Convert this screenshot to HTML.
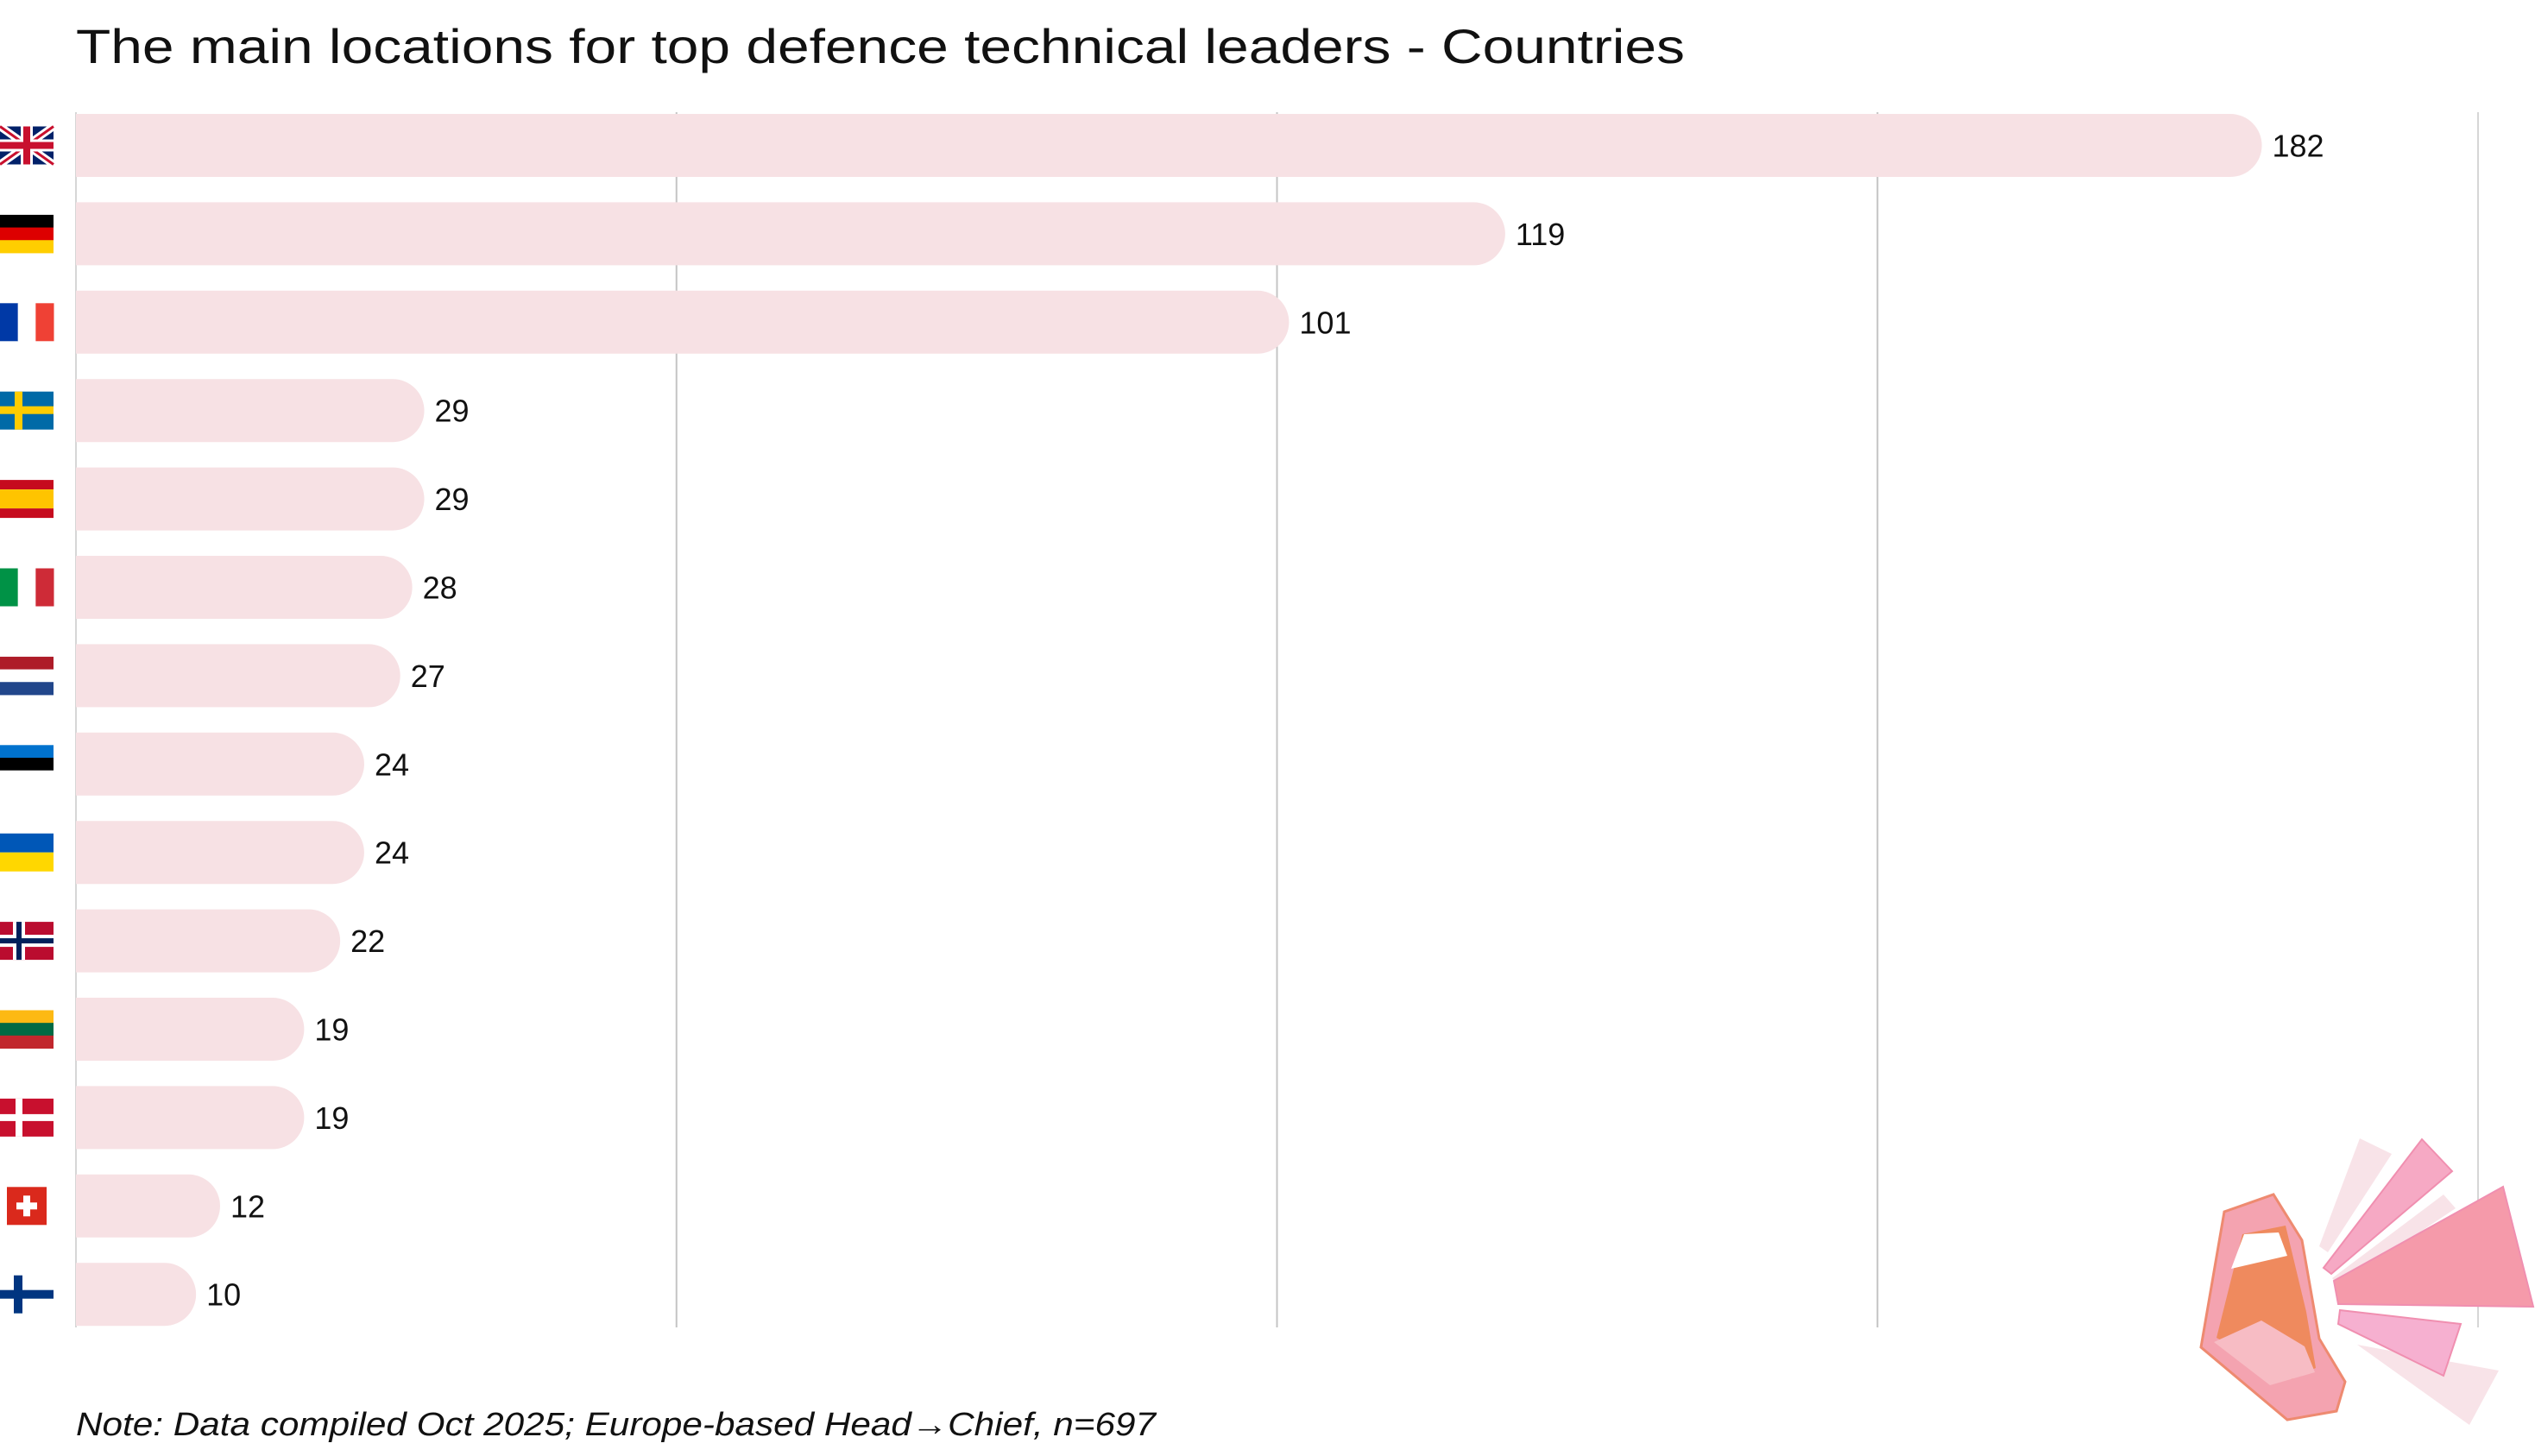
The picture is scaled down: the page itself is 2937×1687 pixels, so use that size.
<!DOCTYPE html>
<html><head><meta charset="utf-8"><style>
html,body{margin:0;padding:0;background:#fff;}
svg{display:block;}
</style></head><body>
<svg id="chart" width="2937" height="1687" viewBox="0 0 2937 1687" xmlns="http://www.w3.org/2000/svg">
<text x="88" y="73" font-family="Liberation Sans, sans-serif" font-size="56" fill="#111" textLength="1864" lengthAdjust="spacingAndGlyphs">The main locations for top defence technical leaders - Countries</text>
<g id="grid"></g>
<g id="bars"></g>
<g id="flags"></g>
<text x="88" y="1663" font-family="Liberation Sans, sans-serif" font-style="italic" font-size="38" fill="#111" textLength="1251" lengthAdjust="spacingAndGlyphs">Note: Data compiled Oct 2025; Europe-based Head→Chief, n=697</text>
<g>
<polygon points="2734,1319 2771,1337 2697,1451 2687,1444" fill="#f8e3e8"/>
<polygon points="2702,1481 2831,1384 2845,1400 2710,1490" fill="#f8e3e8"/>
<polygon points="2731,1558 2895,1588 2861,1651" fill="#f8e3e8"/>
<polygon points="2806,1320 2841,1357 2701,1476 2692,1469" fill="#f6a9c4" stroke="#f08fb0" stroke-width="2"/>
<polygon points="2704,1484 2900,1375 2935,1514 2709,1511" fill="#f59aaa" stroke="#f08fb0" stroke-width="2"/>
<polygon points="2711,1518 2851,1534 2831,1594 2709,1534" fill="#f6b0d0" stroke="#f08fb0" stroke-width="2"/>
<polygon points="2550,1561 2577,1404 2634,1384 2667,1437 2687,1551 2717,1601 2707,1635 2650,1645" fill="#f4a3b0" stroke="#ee8a70" stroke-width="3"/>
<polygon points="2568,1550 2598,1430 2648,1420 2672,1520 2683,1585 2655,1598" fill="#ef8a5e"/>
<polygon points="2585,1470 2600,1430 2640,1428 2650,1455" fill="#fff"/>
<polygon points="2565,1555 2620,1530 2670,1560 2682,1590 2630,1605" fill="#f7bcc4"/>
</g>
</svg>
<script>
const categories = ["United Kingdom","Germany","France","Sweden","Spain","Italy","Netherlands","Estonia","Ukraine","Norway","Lithuania","Denmark","Switzerland","Finland"];
const values = [182,119,101,29,29,28,27,24,24,22,19,19,12,10];
const tickValues = [0,50,100,150,200];

const NS="http://www.w3.org/2000/svg";
const x0=88, pxPer=(2871-88)/200, top0=132, step=102.4, bh=73;
const xs=v=>x0+v*pxPer;
const ys=i=>top0+i*step;
function mk(tag,attrs,parent){const e=document.createElementNS(NS,tag);for(const k in attrs)e.setAttribute(k,attrs[k]);parent.appendChild(e);return e;}

const grid=document.getElementById('grid');
tickValues.forEach(t=>{
  const l=mk('line',{x1:xs(t),x2:xs(t),y1:130,y2:1538,stroke:t===0||t===200?'#d6d6d6':'#c4c4c4','stroke-width':2},grid);
  
  
});

const bars=document.getElementById('bars');
values.forEach((v,i)=>{
  const w=xs(v)-x0, y=ys(i), r=bh/2;
  const d=`M${x0},${y} H${x0+w-r} A${r},${r} 0 0 1 ${x0+w-r},${y+bh} H${x0} Z`;
  const p=mk('path',{d:d,fill:'#f7e1e4'},bars);
  
  
  const t=mk('text',{x:xs(v)+12,y:y+bh/2+13,'font-family':'Liberation Sans, sans-serif','font-size':36,fill:'#111'},bars);
  t.textContent=v;
  
  
});

const flagDefs={
 "Sweden":g=>{r(g,0,0,62,44,'#006aa7');r(g,17,0,9,44,'#fecc00');r(g,0,17,62,9,'#fecc00');},
 "Germany":g=>h3(g,['#000','#dd0000','#ffce00']),
 "France":g=>v3(g,['#0039a6','#fff','#ef4135']),
 "Spain":g=>{r(g,0,0,62,11,'#c60b1e');r(g,0,11,62,22,'#ffc400');r(g,0,33,62,11,'#c60b1e');},
 "Italy":g=>v3(g,['#009246','#fff','#ce2b37']),
 "Netherlands":g=>h3(g,['#ae1c28','#fff','#21468b']),
 "Estonia":g=>h3(g,['#0072ce','#000','#fff']),
 "Ukraine":g=>{r(g,0,0,62,22,'#0057b7');r(g,0,22,62,22,'#ffd700');},
 "Norway":g=>{r(g,0,0,62,44,'#ba0c2f');r(g,15,0,14,44,'#fff');r(g,0,15,62,14,'#fff');r(g,19,0,6,44,'#00205b');r(g,0,19,62,6,'#00205b');},
 "Lithuania":g=>h3(g,['#fdb913','#006a44','#c1272d']),
 "Denmark":g=>{r(g,0,0,62,44,'#c8102e');r(g,18,0,8,44,'#fff');r(g,0,18,62,8,'#fff');},
 "Switzerland":g=>{r(g,8,0,46,44,'#da291c');r(g,27,10,8,24,'#fff');r(g,19,18,24,8,'#fff');},
 "Finland":g=>{r(g,0,0,62,44,'#fff');r(g,16,0,10,44,'#003580');r(g,0,17,62,10,'#003580');},
 "United Kingdom":g=>{r(g,0,0,62,44,'#012169');
   mk('path',{d:'M0,0 L62,44 M62,0 L0,44',stroke:'#fff','stroke-width':9},g);
   mk('path',{d:'M0,0 L62,44 M62,0 L0,44',stroke:'#c8102e','stroke-width':3},g);
   r(g,24,0,14,44,'#fff');r(g,0,15,62,14,'#fff');r(g,27,0,8,44,'#c8102e');r(g,0,18,62,8,'#c8102e');}
};
function r(g,x,y,w,h,f){mk('rect',{x:x,y:y,width:w,height:h,fill:f},g);}
function h3(g,c){c.forEach((f,k)=>r(g,0,k*44/3,62,44/3+0.5,f));}
function v3(g,c){c.forEach((f,k)=>r(g,k*62/3,0,62/3+0.5,44,f));}
const flags=document.getElementById('flags');
categories.forEach((c,i)=>{
  const g=mk('g',{transform:`translate(0,${ys(i)+bh/2-22})`},flags);
  
  
  flagDefs[c](g);
});
</script>
</body></html>
